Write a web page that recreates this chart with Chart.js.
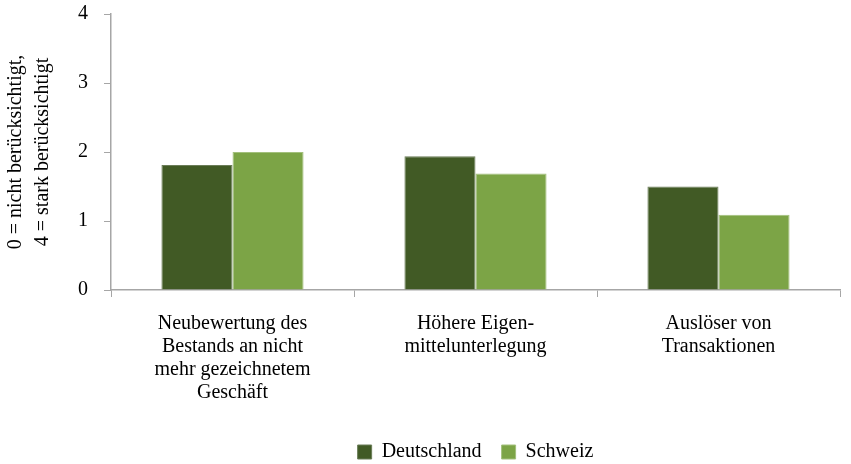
<!DOCTYPE html>
<html lang="de">
<head>
    <meta charset="UTF-8">
    <title>Berücksichtigung</title>
    <style>
        html, body { margin: 0; padding: 0; background: #ffffff; }
        #wrap { width: 851px; height: 464px; }
    </style>
    <script src="https://cdn.jsdelivr.net/npm/chart.js@4.4.1/dist/chart.umd.min.js"></script>
</head>
<body>
    <div id="wrap"><canvas id="chart" width="851" height="464"></canvas></div>
    <script>
        const categories = [
            ['Neubewertung des', 'Bestands an nicht', 'mehr gezeichnetem', 'Geschäft'],
            ['Höhere Eigen-', 'mittelunterlegung'],
            ['Auslöser von', 'Transaktionen']
        ];
        const deutschland = [1.81, 1.94, 1.50];
        const schweiz = [2.00, 1.69, 1.09];
        const yTitle = ['0 = nicht berücksichtigt,', '4 = stark berücksichtigt'];

        const family = "'Liberation Serif', 'DejaVu Serif', serif";
        const axisGrey = '#a6a6a6';

        // legend items need wide horizontal gaps but a short box, so trim its height
        const legendHeight = {
            id: 'legendHeight',
            beforeLayout(chart) {
                const legend = chart.legend;
                if (legend && !legend._patched) {
                    const fit = legend.fit.bind(legend);
                    legend.fit = function () { fit(); this.height = 42; };
                    legend._patched = true;
                }
            }
        };

        new Chart(document.getElementById('chart'), {
            type: 'bar',
            data: {
                labels: categories,
                datasets: [
                    { label: 'Deutschland', data: deutschland, backgroundColor: '#415a25', borderColor: '#6b7d58', borderWidth: 1 },
                    { label: 'Schweiz', data: schweiz, backgroundColor: '#7ca446', borderColor: '#a3c07c', borderWidth: 1 }
                ]
            },
            plugins: [legendHeight],
            options: {
                responsive: false,
                animation: false,
                layout: { padding: { top: 4, right: 11, left: 2, bottom: 0 } },
                datasets: { bar: { categoryPercentage: 0.585, barPercentage: 1 } },
                scales: {
                    x: {
                        grid: { display: true, drawOnChartArea: false, color: axisGrey, tickLength: 7 },
                        border: { color: axisGrey, width: 1.5 },
                        ticks: { color: '#000', font: { family: family, size: 20, lineHeight: '23px' }, maxRotation: 0, padding: 15 },
                        afterFit: (scale) => { scale.height = 132; }
                    },
                    y: {
                        min: 0, max: 4,
                        grid: { display: true, drawOnChartArea: false, color: axisGrey, tickLength: 7 },
                        border: { color: axisGrey, width: 1.5 },
                        ticks: { stepSize: 1, color: '#000', font: { family: family, size: 20 }, padding: 16 },
                        title: { display: true, text: yTitle, color: '#000', font: { family: family, size: 20, lineHeight: '27px' }, padding: { top: 0, bottom: 6 } },
                        afterFit: (scale) => { scale.paddingTop = 14; scale.paddingBottom = 0; }
                    }
                },
                plugins: {
                    legend: {
                        position: 'bottom',
                        fullSize: false,
                        labels: { color: '#000', font: { family: family, size: 20 }, boxWidth: 14, boxHeight: 14, padding: 20 }
                    },
                    tooltip: { enabled: false }
                }
            }
        });
    </script>
</body>
</html>
